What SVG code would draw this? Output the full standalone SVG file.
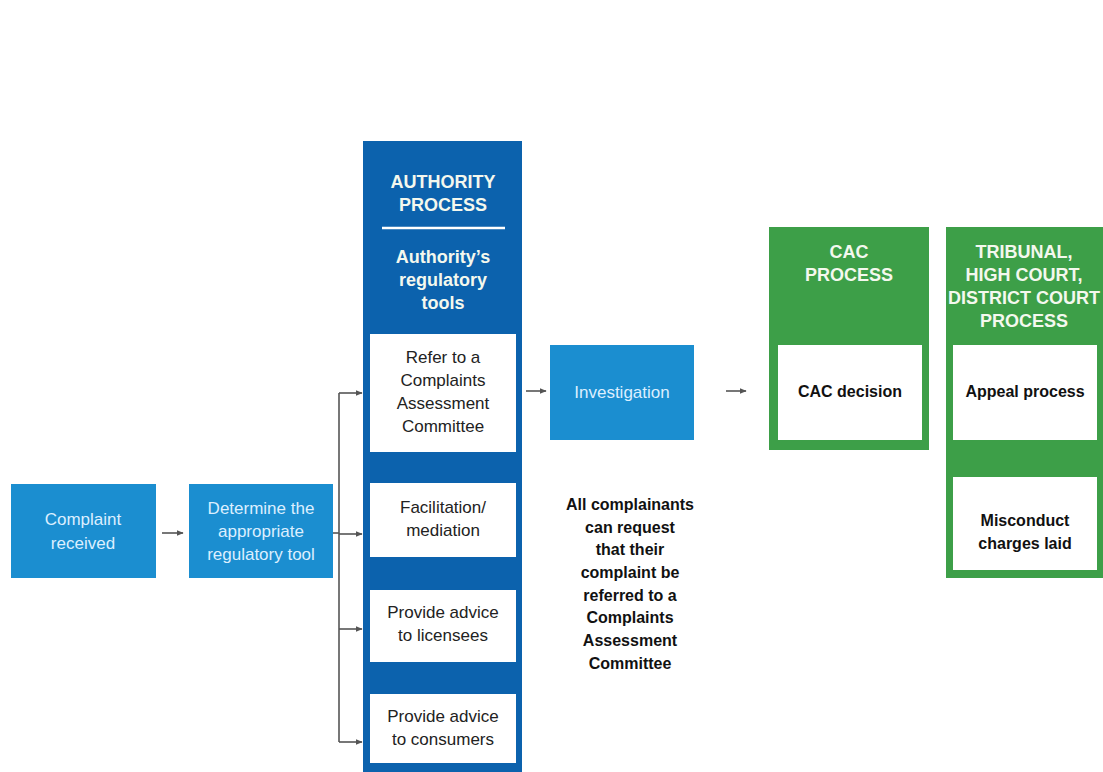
<svg xmlns="http://www.w3.org/2000/svg" width="1103" height="772" viewBox="0 0 1103 772">
<defs>
<marker id="ah" viewBox="0 0 10 10" refX="9" refY="5" markerWidth="7" markerHeight="7" markerUnits="userSpaceOnUse" orient="auto">
<path d="M0,1 L10,5 L0,9 z" fill="#555"/>
</marker>
<style>
.lb{fill:#1b8ed0}
.db{fill:#0c62ad}
.gr{fill:#3d9f48}
.wb{fill:#ffffff}
.t{font-family:"Liberation Sans",Arial,sans-serif;font-size:17px;text-anchor:middle}
.tl{fill:#dcefff}
.tk{fill:#222}
.b{font-family:"Liberation Sans",Arial,sans-serif;font-weight:bold;font-size:16px;text-anchor:middle;fill:#111}
.h{font-family:"Liberation Sans",Arial,sans-serif;font-weight:bold;font-size:18px;text-anchor:middle;fill:#f4f8ee}
.c{stroke:#555;stroke-width:1.6;fill:none}
</style>
</defs>
<rect width="1103" height="772" fill="#ffffff"/>

<g id="connectors">
<line class="c" x1="162" y1="533" x2="183" y2="533" marker-end="url(#ah)"/>
<polyline class="c" points="333,533 339,533"/>
<line class="c" x1="339" y1="393" x2="339" y2="742"/>
<line class="c" x1="339" y1="393" x2="362" y2="393" marker-end="url(#ah)"/>
<line class="c" x1="339" y1="534" x2="362" y2="534" marker-end="url(#ah)"/>
<line class="c" x1="339" y1="629" x2="362" y2="629" marker-end="url(#ah)"/>
<line class="c" x1="339" y1="742" x2="362" y2="742" marker-end="url(#ah)"/>
<line class="c" x1="526" y1="391" x2="546" y2="391" marker-end="url(#ah)"/>
<line class="c" x1="726" y1="391" x2="746" y2="391" marker-end="url(#ah)"/>
</g>

<g id="complaint-received">
<rect class="lb" x="11" y="484" width="145" height="94"/>
<text class="t tl" x="83" y="525">Complaint</text>
<text class="t tl" x="83" y="549">received</text>
</g>

<g id="determine-tool">
<rect class="lb" x="189" y="484" width="144" height="94"/>
<text class="t tl" x="261" y="514">Determine the</text>
<text class="t tl" x="261" y="537">appropriate</text>
<text class="t tl" x="261" y="560">regulatory tool</text>
</g>

<g id="authority-process">
<rect class="db" x="363" y="141" width="159" height="631"/>
<text class="h" x="443" y="188">AUTHORITY</text>
<text class="h" x="443" y="211">PROCESS</text>
<line x1="382" y1="228" x2="505" y2="228" stroke="#ffffff" stroke-width="2.5"/>
<text class="h" x="443" y="263">Authority’s</text>
<text class="h" x="443" y="286">regulatory</text>
<text class="h" x="443" y="309">tools</text>
</g>

<g id="refer-cac">
<rect class="wb" x="370" y="334" width="146" height="118"/>
<text class="t tk" x="443" y="363">Refer to a</text>
<text class="t tk" x="443" y="386">Complaints</text>
<text class="t tk" x="443" y="409">Assessment</text>
<text class="t tk" x="443" y="432">Committee</text>
</g>

<g id="facilitation">
<rect class="wb" x="370" y="483" width="146" height="74"/>
<text class="t tk" x="443" y="513">Facilitation/</text>
<text class="t tk" x="443" y="536">mediation</text>
</g>

<g id="advice-licensees">
<rect class="wb" x="370" y="590" width="146" height="72"/>
<text class="t tk" x="443" y="618">Provide advice</text>
<text class="t tk" x="443" y="641">to licensees</text>
</g>

<g id="advice-consumers">
<rect class="wb" x="370" y="694" width="146" height="69"/>
<text class="t tk" x="443" y="722">Provide advice</text>
<text class="t tk" x="443" y="745">to consumers</text>
</g>

<g id="investigation">
<rect class="lb" x="550" y="345" width="144" height="95"/>
<text class="t tl" x="622" y="398">Investigation</text>
</g>

<g id="note">
<text class="b" x="630" y="510">All complainants</text>
<text class="b" x="630" y="533">can request</text>
<text class="b" x="630" y="555">that their</text>
<text class="b" x="630" y="578">complaint be</text>
<text class="b" x="630" y="601">referred to a</text>
<text class="b" x="630" y="623">Complaints</text>
<text class="b" x="630" y="646">Assessment</text>
<text class="b" x="630" y="669">Committee</text>
</g>

<g id="cac-process">
<rect class="gr" x="769" y="227" width="160" height="223"/>
<text class="h" x="849" y="258">CAC</text>
<text class="h" x="849" y="281">PROCESS</text>
</g>

<g id="cac-decision">
<rect class="wb" x="778" y="345" width="144" height="95"/>
<text class="b" x="850" y="397">CAC decision</text>
</g>

<g id="court-process">
<rect class="gr" x="946" y="227" width="157" height="351"/>
<text class="h" x="1024" y="258">TRIBUNAL,</text>
<text class="h" x="1024" y="281">HIGH COURT,</text>
<text class="h" x="1024" y="304">DISTRICT COURT</text>
<text class="h" x="1024" y="327">PROCESS</text>
</g>

<g id="appeal-process">
<rect class="wb" x="953" y="345" width="144" height="95"/>
<text class="b" x="1025" y="397">Appeal process</text>
</g>

<g id="misconduct">
<rect class="wb" x="953" y="477" width="144" height="93"/>
<text class="b" x="1025" y="526">Misconduct</text>
<text class="b" x="1025" y="549">charges laid</text>
</g>
</svg>
